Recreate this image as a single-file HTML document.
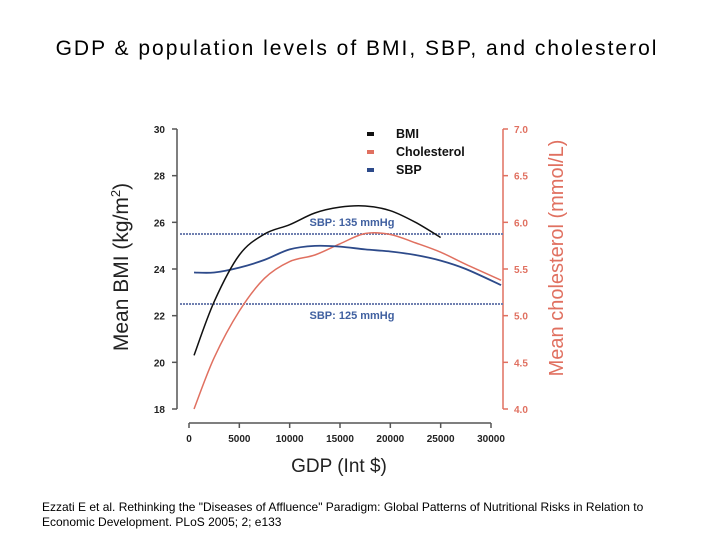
<!DOCTYPE html>
<html><head><meta charset="utf-8"><style>
body{margin:0;width:720px;height:540px;background:#fff;overflow:hidden;font-family:"Liberation Sans",Arial,sans-serif}
#title{position:absolute;left:0;width:714px;top:37px;text-align:center;font-size:21px;letter-spacing:2px;color:#000}
#cite{position:absolute;left:42px;top:500px;font-size:12px;line-height:15px;color:#000}
svg{position:absolute;left:0;top:0}
</style></head><body>
<div id="title">GDP &amp; population levels of BMI, SBP, and cholesterol</div>
<svg id="chart" width="720" height="540"></svg>
<div id="cite">Ezzati E et al. Rethinking the "Diseases of Affluence" Paradigm: Global Patterns of Nutritional Risks in Relation to<br>Economic Development. PLoS 2005; 2; e133</div>
<script>
const gdp=[500,2500,5000,7500,10000,12500,15000,17500,20000,22500,25000];
const bmi=[20.3,22.6,24.6,25.5,25.9,26.4,26.65,26.7,26.5,26.0,25.35];
const gdpLong=[500,2500,5000,7500,10000,12500,15000,17500,20000,22500,25000,27500,31000];
const chol=[4.0,4.55,5.05,5.4,5.58,5.65,5.77,5.88,5.87,5.78,5.68,5.55,5.38];
const sbp=[129.5,129.5,130.2,131.3,132.8,133.3,133.2,132.8,132.5,132.0,131.2,130.0,127.7];
const xTicks=[0,5000,10000,15000,20000,25000,30000];
const bmiTicks=[18,20,22,24,26,28,30];
const cholTicks=["4.0","4.5","5.0","5.5","6.0","6.5","7.0"];
const sbpRefs=[135,125];

const NS="http://www.w3.org/2000/svg";
const svg=document.getElementById('chart');
const X=v=>189+v*(302/30000);
const YB=v=>129+(30-v)*(280/12);
const YC=v=>129+(7-v)*(280/3);
const YS=v=>YB(22.5+(v-125)*0.3);
function el(t,a,p){const e=document.createElementNS(NS,t);for(const k in a)e.setAttribute(k,a[k]);(p||svg).appendChild(e);return e;}
function txt(x,y,s,a){const e=el('text',Object.assign({x:x,y:y},a));e.textContent=s;return e;}
function smooth(pts){let d='M'+pts[0][0]+','+pts[0][1];for(let i=0;i<pts.length-1;i++){const p0=pts[i-1]||pts[i],p1=pts[i],p2=pts[i+1],p3=pts[i+2]||p2;
d+=' C'+(p1[0]+(p2[0]-p0[0])/6)+','+(p1[1]+(p2[1]-p0[1])/6)+' '+(p2[0]-(p3[0]-p1[0])/6)+','+(p2[1]-(p3[1]-p1[1])/6)+' '+p2[0]+','+p2[1];}return d;}

let a=el('line',{x1:177,y1:129,x2:177,y2:409,stroke:'#555','stroke-width':1.5});

bmiTicks.forEach(t=>{const y=YB(t);el('line',{x1:172,y1:y,x2:177,y2:y,stroke:'#555','stroke-width':1.5});
const l=txt(165,y+4,t,{'text-anchor':'end','font-size':10,'font-weight':'bold',fill:'#222'});
});
a=el('line',{x1:503,y1:129,x2:503,y2:409,stroke:'#e07060','stroke-width':1.5});

cholTicks.forEach(t=>{const y=YC(+t);el('line',{x1:503,y1:y,x2:508,y2:y,stroke:'#e07060','stroke-width':1.5});
const l=txt(514,y+4,t,{'font-size':10,'font-weight':'bold',fill:'#e07060'});
});
a=el('line',{x1:X(0),y1:423,x2:X(30000),y2:423,stroke:'#555','stroke-width':1.5});

xTicks.forEach(t=>{const x=X(t);el('line',{x1:x,y1:423,x2:x,y2:428,stroke:'#555','stroke-width':1.5});
const l=txt(x,442,t,{'text-anchor':'middle','font-size':10,'font-weight':'bold',fill:'#222'});
});
let t=txt(339,472,'GDP (Int $)',{'text-anchor':'middle','font-size':19,fill:'#222'});

t=txt(0,0,'',{'text-anchor':'middle','font-size':21,fill:'#222',transform:'translate(128,267) rotate(-90)'});
t.innerHTML='Mean BMI (kg/m<tspan dy="-8" font-size="13">2</tspan><tspan dy="8">)</tspan>';

t=txt(0,0,'Mean cholesterol (mmol/L)',{'text-anchor':'middle','font-size':20,fill:'#e07060',transform:'translate(563,258) rotate(-90)'});

sbpRefs.forEach(v=>{const y=YS(v);const l=el('line',{x1:180,y1:y,x2:503,y2:y,stroke:'#7080b0','stroke-width':2,'stroke-dasharray':'2,1'});

const lb=txt(352,v>130?y-8:y+15,'SBP: '+v+' mmHg',{'text-anchor':'middle','font-size':11,'font-weight':'bold',fill:'#4060a0'});
});
let p=el('path',{d:smooth(gdpLong.map((g,i)=>[X(g),YC(chol[i])])),fill:'none',stroke:'#e07060','stroke-width':1.5});

p=el('path',{d:smooth(gdpLong.map((g,i)=>[X(g),YS(sbp[i])])),fill:'none',stroke:'#2d4a8a','stroke-width':1.8});

p=el('path',{d:smooth(gdp.map((g,i)=>[X(g),YB(bmi[i])])),fill:'none',stroke:'#111','stroke-width':1.5});

[['BMI','#111'],['Cholesterol','#e07060'],['SBP','#2d4a8a']].forEach((d,i)=>{const y=133+i*18;
const g=el('g',{});
el('rect',{x:367,y:y-1,width:7,height:4,fill:d[1]},g);
const l=el('text',{x:396,y:y+5,'font-size':12.5,'font-weight':'bold',fill:'#111'},g);l.textContent=d[0];});
</script>
</body></html>
